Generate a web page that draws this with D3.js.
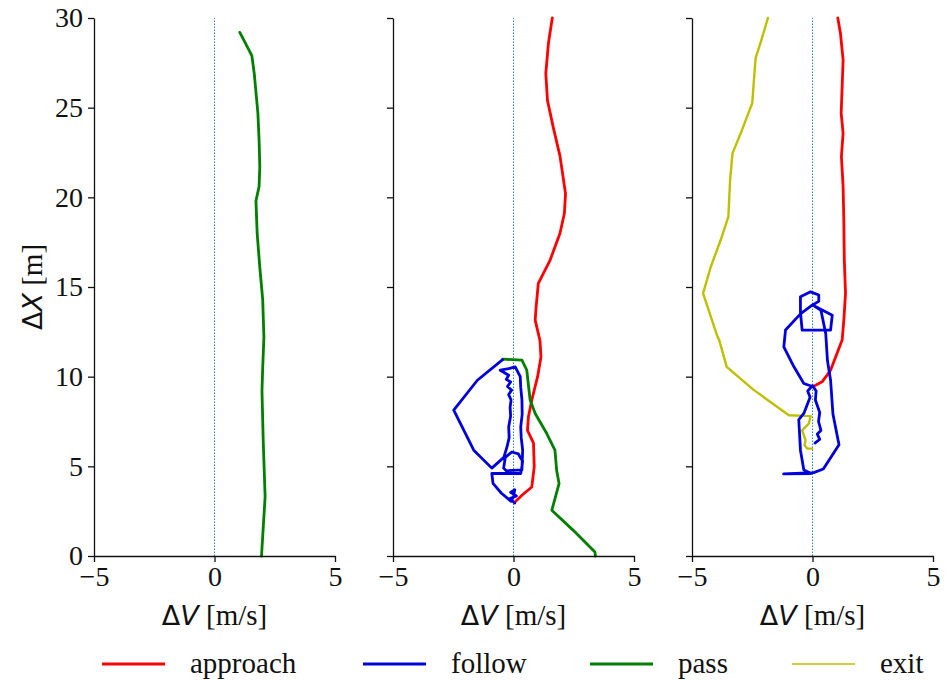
<!DOCTYPE html>
<html>
<head>
<meta charset="utf-8">
<script src="https://cdn.jsdelivr.net/npm/d3@7"></script>
<style>
  body { margin: 0; background: #fff; }
  text { font-family: "Liberation Serif", "Times New Roman", serif; fill: #111; }
</style>
</head>
<body>
<div id="chart"></div>
<script>
// data: [dV, dX] pairs
var passLeft = [[1.05,29.2],[1.55,27.9],[1.65,26.9],[1.8,24.7],[1.85,23.2],[1.88,21.7],[1.85,20.6],
    [1.72,19.8],[1.77,18.0],[1.88,16.1],[2.0,14.3],[2.05,12.2],[2.0,10.5],[1.97,9.2],[2.02,6.5],
    [2.1,3.3],[1.95,0.0]];

var approachMid = [[1.61,30.0],[1.45,28.6],[1.34,26.9],[1.41,25.4],[1.65,23.9],[1.93,22.3],[2.16,20.2],
    [2.11,19.1],[1.93,18.0],[1.52,16.5],[1.03,15.2],[0.94,13.9],[0.9,13.15],[1.1,12.0],[1.14,11.1],
    [1.0,10.0],[0.76,8.7],[0.62,7.76],[0.58,7.0],[0.83,6.3],[0.86,4.97],[0.76,3.85],[0.35,3.39],[0.05,3.0]];

var followMid = [[0.05,2.95],[-0.15,3.2],[0.12,3.35],[-0.12,3.55],[0.05,3.7],[0.0,3.3],[-0.1,3.05],
    [-0.5,3.5],[-0.85,4.05],[-0.9,4.6],[0.3,4.6],[0.35,4.97],[0.38,5.3],[0.28,5.5],[0.2,5.7],
    [-0.07,5.8],[-0.34,5.5],[-0.41,4.9],[-0.3,4.75],[0.35,4.8],[0.38,5.9],[0.32,6.6],[0.3,7.2],
    [0.36,7.9],[0.35,8.7],[0.3,9.4],[0.28,10.0],[0.07,10.55],[-0.2,10.45],[-0.55,10.36],[-0.2,10.08],
    [-0.3,9.85],[-0.12,9.7],[-0.25,9.45],[-0.08,9.25],[-0.2,9.0],[-0.1,8.7],[-0.14,8.3],[-0.12,7.8],
    [-0.2,7.2],[-0.18,6.6],[-0.27,6.08],[-0.4,5.5],[-0.9,4.9],[-1.65,5.9],[-2.48,8.13],[-1.5,9.8],
    [-0.45,10.95]];

var passMid = [[-0.45,10.98],[0.35,10.92],[0.55,10.36],[0.69,8.7],[0.9,7.95],[1.38,6.83],[1.72,5.9],
    [1.79,4.78],[1.89,4.04],[1.59,2.55],[2.48,1.43],[3.38,0.22],[3.4,0.0]];

var approachRight = [[1.05,30.0],[1.16,29.15],[1.27,27.66],[1.23,26.17],[1.19,24.7],[1.27,23.57],
    [1.2,22.27],[1.27,20.6],[1.3,18.73],[1.32,16.5],[1.37,14.64],[1.3,13.15],[1.23,12.04],[1.02,11.3],
    [0.75,10.36],[0.4,9.71],[0.05,9.47]];

var followRight = [[0.1,6.3],[0.3,6.5],[0.2,6.8],[0.35,7.0],[0.25,7.5],[0.3,8.0],[0.12,8.7],[0.15,9.2],
    [0.0,9.5],[-0.2,9.2],[-0.1,8.85],[-0.36,7.95],[-0.57,7.6],[-0.5,5.9],[-0.36,4.8],[-0.05,4.6],
    [-1.2,4.58],[0.05,4.65],[0.45,4.85],[1.1,6.2],[0.85,7.9],[0.75,9.8],[0.62,10.9],[0.55,12.4],
    [0.35,13.7],[0.0,14.0],[0.82,13.43],[0.75,12.6],[-0.43,12.6],[-0.5,13.6],[-0.5,14.45],[-0.08,14.73],
    [0.26,14.55],[0.26,14.2],[0.0,14.0],[-0.5,13.5],[-1.12,12.6],[-1.19,11.66],[-0.77,10.55],
    [-0.36,9.62],[0.0,9.45]];

var exitRight = [[-1.85,30.0],[-2.12,28.78],[-2.36,27.76],[-2.43,26.55],[-2.5,25.25],[-2.98,23.57],
    [-3.32,22.45],[-3.42,20.97],[-3.49,18.92],[-3.81,17.62],[-4.22,16.13],[-4.54,14.64],[-3.94,12.22],
    [-3.87,12.04],[-3.56,10.55],[-2.43,9.25],[-0.98,7.85],[-0.08,7.8],[-0.15,7.39],[-0.43,7.01],
    [-0.29,6.46],[-0.33,6.18],[-0.22,5.99],[-0.01,5.99]];

var xTicks = [-5, 0, 5];
var yTicks = [0, 5, 10, 15, 20, 25, 30];
var seriesNames = ["approach", "follow", "pass", "exit"];
var seriesColors = ["#ff0000", "#0000dd", "#007f00", "#bfbf00"];

var panels = [
    [{ name: "pass", values: passLeft }],
    [{ name: "approach", values: approachMid }, { name: "pass", values: passMid }, { name: "follow", values: followMid }],
    [{ name: "exit", values: exitRight }, { name: "approach", values: approachRight }, { name: "follow", values: followRight }]
];

var svgWidth = 946;
var svgHeight = 681;
var panelLeft = [94, 393, 692];
var panelWidth = 241;
var plotTop = 18, plotBottom = 556;

var color = d3.scaleOrdinal().domain(seriesNames).range(seriesColors);

var svg = d3.select("#chart")
    .append("svg")
    .attr("width", svgWidth)
    .attr("height", svgHeight);

var y = d3.scaleLinear().domain([0, 30]).range([plotBottom, plotTop]);

panels.forEach(function(series, i) {
    var x = d3.scaleLinear().domain([-5, 5]).range([panelLeft[i], panelLeft[i] + panelWidth]);
    var g = svg.append("g");

    // dotted zero line
    g.append("line")
        .attr("x1", x(0)).attr("x2", x(0))
        .attr("y1", y(0)).attr("y2", y(30))
        .attr("stroke", "#2b82a8")
        .attr("stroke-width", 1)
        .attr("stroke-dasharray", "1.5,1.5");

    var line = d3.line().x(d => x(d[0])).y(d => y(d[1]));
    series.forEach(function(s) {
        g.append("path")
            .datum(s.values)
            .attr("d", line)
            .attr("fill", "none")
            .attr("stroke", color(s.name))
            .attr("stroke-width", s.name === "exit" ? 2.4 : 2.8)
            .attr("stroke-linejoin", "round")
            .attr("stroke-linecap", "round");
    });

    var xAxis = g.append("g")
        .attr("transform", `translate(0, ${plotBottom})`)
        .call(d3.axisBottom(x).tickValues(xTicks).tickSize(6).tickSizeOuter(0).tickPadding(4)
            .tickFormat(d => d < 0 ? "\u2212" + Math.abs(d) : d));
    var yAxis = g.append("g")
        .attr("transform", `translate(${panelLeft[i]}, 0)`)
        .call(d3.axisLeft(y).tickValues(yTicks).tickSize(6).tickSizeOuter(0).tickPadding(5)
            .tickFormat(i === 0 ? d3.format("d") : ""));

    [xAxis, yAxis].forEach(function(ax) {
        ax.select(".domain").attr("stroke", "#111").attr("stroke-width", 1.3);
        ax.selectAll(".tick line").attr("stroke", "#111").attr("stroke-width", 1.3);
        ax.selectAll(".tick text")
            .style("font-family", "'Liberation Serif', serif")
            .style("font-size", "28px")
            .attr("fill", "#111");
    });

    // x label
    var xl = g.append("text")
        .attr("x", x(0))
        .attr("y", 625)
        .attr("text-anchor", "middle")
        .style("font-size", "29px");
    xl.append("tspan").style("font-family", "'DejaVu Sans', sans-serif").style("font-size", "27px").text("\u0394");
    xl.append("tspan").style("font-family", "'DejaVu Sans', sans-serif").style("font-size", "27px").style("font-style", "italic").text("V");
    xl.append("tspan").text(" [m/s]");
});

// y label
var yl = svg.append("text")
    .attr("transform", `translate(42, ${(plotTop + plotBottom) / 2}) rotate(-90)`)
    .attr("text-anchor", "middle")
    .style("font-size", "29px");
yl.append("tspan").style("font-family", "'DejaVu Sans', sans-serif").style("font-size", "27px").text("\u0394");
yl.append("tspan").style("font-family", "'DejaVu Sans', sans-serif").style("font-size", "27px").style("font-style", "italic").text("X");
yl.append("tspan").text(" [m]");

// legend
var legendX = [102, 363, 590, 792];
var legend = svg.append("g");
seriesNames.forEach(function(name, i) {
    legend.append("line")
        .attr("x1", legendX[i]).attr("x2", legendX[i] + 63)
        .attr("y1", 664).attr("y2", 664)
        .attr("stroke", color(name))
        .attr("stroke-width", name === "exit" ? 1.6 : 2.8);
    legend.append("text")
        .attr("x", legendX[i] + 88)
        .attr("y", 673)
        .style("font-size", "29px")
        .text(name);
});
</script>
</body>
</html>
